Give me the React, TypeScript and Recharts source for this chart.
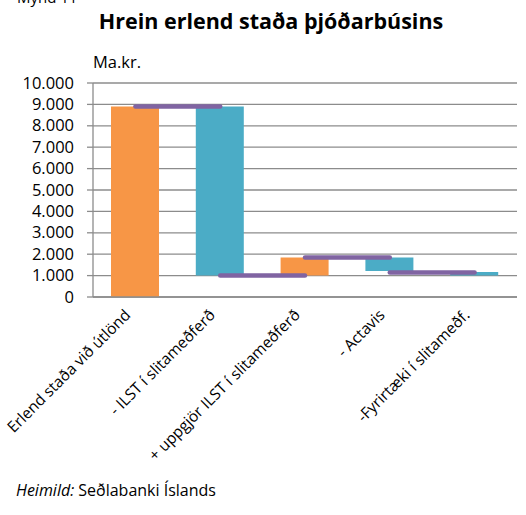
import React from "react";
import {
  BarChart,
  Bar,
  XAxis,
  YAxis,
  CartesianGrid,
  Cell,
  ReferenceLine,
} from "recharts";

const categories = [
  "Erlend staða við útlönd",
  "- ILST í slitameðferð",
  "+ uppgjör ILST í slitameðferð",
  "- Actavis",
  "-Fyrirtæki í slitameðf.",
];
const barBottoms = [0, 1000, 1000, 1220, 1000];
const barTops = [8900, 8900, 1850, 1850, 1170];
const barColors = ["#F79646", "#4BACC6", "#F79646", "#4BACC6", "#4BACC6"];
const connectorLevels = [8900, 1000, 1850, 1150];
const yTicks = [0, 1000, 2000, 3000, 4000, 5000, 6000, 7000, 8000, 9000, 10000];
const edgeTicks = [0, 1, 2, 3, 4, 5];

const data = categories.map((name, i) => ({
  name,
  base: barBottoms[i],
  size: barTops[i] - barBottoms[i],
}));

const FONT = "'Open Sans', sans-serif";
const GRID = "#8c8c8c";

const fmt = (v: number) =>
  v === 0 ? "0" : v.toString().replace(/\B(?=(\d{3})+(?!\d))/g, ".");

const CatTick = (props: any) => {
  const { x, y, payload } = props;
  const ax = x - 4;
  const ay = y + 19;
  return (
    <text
      x={ax}
      y={ay}
      textAnchor="end"
      fontFamily={FONT}
      fontSize={15.5}
      fill="#000"
      transform={`rotate(-45, ${ax}, ${ay})`}
    >
      {payload.value}
    </text>
  );
};

const ValTick = (props: any) => {
  const { x, y, payload } = props;
  return (
    <text
      x={x}
      y={y}
      dy={5.5}
      textAnchor="end"
      fontFamily={FONT}
      fontSize={16.5}
      fill="#000"
    >
      {fmt(payload.value)}
    </text>
  );
};

export default function App() {
  return (
    <div
      style={{
        position: "absolute",
        left: 0,
        top: 0,
        width: 526,
        height: 515,
        background: "#fff",
        overflow: "hidden",
        fontFamily: FONT,
      }}
    >
      <div
        style={{
          position: "absolute",
          left: 17,
          top: -11,
          fontSize: 15,
          lineHeight: "17px",
          color: "#000",
        }}
      >
        Mynd 11
      </div>
      <div
        style={{
          position: "absolute",
          left: 0,
          width: 542,
          top: 6,
          textAlign: "center",
          fontSize: 21.5,
          fontWeight: 700,
          lineHeight: "30px",
          color: "#000",
        }}
      >
        Hrein erlend staða þjóðarbúsins
      </div>
      <div
        style={{
          position: "absolute",
          left: 93,
          top: 51,
          fontSize: 16.5,
          lineHeight: "22px",
          color: "#000",
        }}
      >
        Ma.kr.
      </div>
      <div
        style={{
          position: "absolute",
          left: 16,
          top: 479,
          fontSize: 16,
          lineHeight: "22px",
          color: "#000",
        }}
      >
        <i>Heimild:</i> Seðlabanki Íslands
      </div>
      <div style={{ position: "absolute", left: 0, top: 0 }}>
        <BarChart
          width={526}
          height={515}
          data={data}
          margin={{ top: 83, right: 9, bottom: 0, left: 0 }}
          barSize={48}
        >
          <CartesianGrid
            horizontal={true}
            vertical={false}
            stroke={GRID}
            strokeWidth={1.3}
          />
          <XAxis
            xAxisId="edge"
            type="number"
            domain={[0, 5]}
            ticks={edgeTicks}
            tick={false}
            axisLine={false}
            tickLine={{ stroke: GRID, strokeWidth: 1.3 }}
            tickSize={6}
            height={0}
            allowDataOverflow
          />
          <XAxis
            dataKey="name"
            interval={0}
            height={218}
            tickLine={false}
            tickSize={0}
            tickMargin={0}
            axisLine={{ stroke: GRID, strokeWidth: 1.3 }}
            tick={<CatTick />}
          />
          <YAxis
            width={93}
            domain={[0, 10000]}
            ticks={yTicks}
            interval={0}
            tickSize={6}
            tickMargin={13}
            axisLine={{ stroke: GRID, strokeWidth: 1.3 }}
            tickLine={{ stroke: GRID, strokeWidth: 1.3 }}
            tick={<ValTick />}
          />
          <Bar dataKey="base" stackId="w" fill="transparent" isAnimationActive={false} />
          <Bar dataKey="size" stackId="w" isAnimationActive={false}>
            {data.map((d, i) => (
              <Cell key={d.name} fill={barColors[i]} />
            ))}
          </Bar>
          {connectorLevels.map((v, i) => (
            <ReferenceLine
              key={i}
              segment={[
                { x: categories[i], y: v },
                { x: categories[i + 1], y: v },
              ]}
              stroke="#8064A2"
              strokeWidth={4.5}
              strokeLinecap="round"
              ifOverflow="visible"
            />
          ))}
        </BarChart>
      </div>
    </div>
  );
}
